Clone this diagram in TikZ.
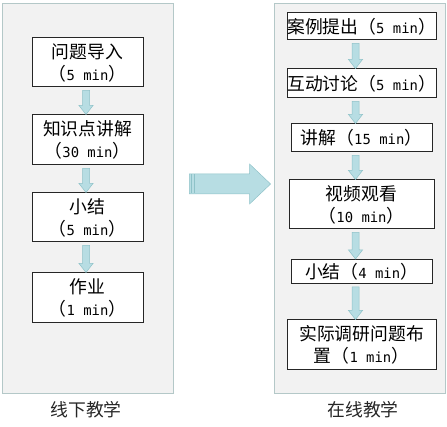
\documentclass[tikz,border=0pt]{standalone}
\usepackage{fontspec}
\setmainfont{Noto Sans CJK SC}
\newfontfamily\latmono[Scale=0.78]{DejaVu Sans Mono}
\usetikzlibrary{calc}
\definecolor{panelfill}{HTML}{F2F2F2}
\definecolor{panelline}{HTML}{B4C8C8}
\definecolor{arrowfill}{HTML}{B7DDE3}
\definecolor{arrowline}{HTML}{8EC2C8}
\newcommand{\boxfont}{\fontsize{17.8}{22}\selectfont}
\newcommand{\mins}[1]{（{\latmono #1 min}）}
% small block arrow: offset, from, to
\newcommand{\flowdown}[3][0]{%
  \filldraw[flowarrow] let \p1=($(#2.south)+(#1,3)$), \p2=($(#3.north)+(#1,0)$) in
    (\x1-3.5pt,\y1) -- (\x1+3.5pt,\y1) -- (\x1+3.5pt,\y2+9pt) -- (\x1+7pt,\y2+9pt)
    -- (\x1,\y2) -- (\x1-7pt,\y2+9pt) -- (\x1-3.5pt,\y2+9pt) -- cycle;}
\begin{document}
\begin{tikzpicture}[x=1pt, y=-1pt,
  panel/.style={draw=panelline, fill=panelfill, line width=0.9pt, minimum width=171, minimum height=390, inner sep=0pt},
  stepbox/.style={draw=black!85, fill=white, line width=1pt, inner sep=0pt, align=center, font=\boxfont},
  flowarrow/.style={fill=arrowfill, draw=arrowline, line width=0.5pt},
  caption/.style={font=\fontsize{17.8}{20}\selectfont, text=black!85}]
\useasboundingbox (0,0) rectangle (447,427);
% 两个底板
\node[panel] (lp) at (87.5,198) {};
\node[panel] (rp) at (359.5,198) {};
\node[caption] (lcap) at (86,410) {线下教学};
\node[caption] (rcap) at (363,410) {在线教学};
% 线下教学
\node[stepbox, minimum width=111, minimum height=49] (l1) at (87.5,62.5) {问题导入\\\mins{5}};
\node[stepbox, minimum width=111, minimum height=50] (l2) at (87.5,140) {知识点讲解\\\mins{30}};
\node[stepbox, minimum width=111, minimum height=49] (l3) at (87.5,217.5) {小结\\\mins{5}};
\node[stepbox, minimum width=111, minimum height=50] (l4) at (87.5,298) {作业\\\mins{1}};
\flowdown[-1.5]{l1}{l2}
\flowdown[-1.5]{l2}{l3}
\flowdown[-1.5]{l3}{l4}
% 在线教学
\node[stepbox, minimum width=149, minimum height=27] (r1) at (361.5,26.5) {案例提出\mins{5}};
\node[stepbox, minimum width=149, minimum height=29] (r2) at (361.5,83.5) {互动讨论\mins{5}};
\node[stepbox, minimum width=141, minimum height=28] (r3) at (361.5,138) {讲解\mins{15}};
\node[stepbox, minimum width=145, minimum height=49] (r4) at (361.5,204.5) {视频观看\\\mins{10}};
\node[stepbox, minimum width=141, minimum height=24] (r5) at (361.5,271.5) {小结\mins{4}};
\node[stepbox, minimum width=149, minimum height=50] (r6) at (361.5,345) {实际调研问题布\\置\mins{1}};
\flowdown[-6]{r1}{r2}
\flowdown[-6]{r2}{r3}
\flowdown[-6]{r3}{r4}
\flowdown[-6]{r4}{r5}
\flowdown[-6]{r5}{r6}
% 大箭头
\filldraw[flowarrow] let \p1=($(lp.east)+(16,-14)$), \p2=($(rp.west)+(-3,-14)$) in
  (\x1,\y1+10pt) -- (\x2-21pt,\y1+10pt) -- (\x2-21pt,\y1+20pt) -- (\x2,\y1)
  -- (\x2-21pt,\y1-20pt) -- (\x2-21pt,\y1-10pt) -- (\x1,\y1-10pt) -- cycle;
\draw[arrowline, line width=0.6pt] (191.5,174.5) -- (191.5,193.5) (194,174.5) -- (194,193.5);
\end{tikzpicture}
\end{document}
